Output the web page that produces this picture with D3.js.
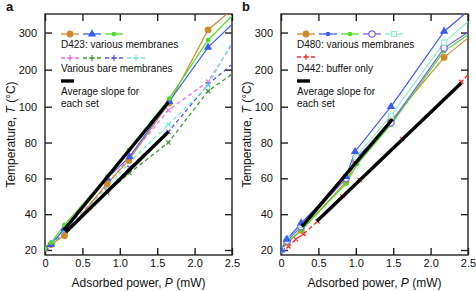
<!DOCTYPE html>
<html><head><meta charset="utf-8">
<script src="https://cdn.jsdelivr.net/npm/d3@7"></script>
<style>
html,body{margin:0;padding:0;background:#fff;}
text{font-family:"Liberation Sans",Arial,sans-serif;fill:#111;}
</style></head>
<body>
<svg id="c" width="476" height="291"></svg>
<script>
// ---------- data ----------
const xTicks = [0, 0.5, 1, 1.5, 2, 2.5];
const yTicks = [20, 40, 60, 80, 100, 200, 300];

// Panel a: D423 membranes (solid)
const aOrange = [[0,21],[0.08,23],[0.26,28],[0.83,57],[1.12,70],[1.66,110],[2.18,307],[2.5,362]];
const aBlue   = [[0,21],[0.08,23],[0.26,32],[0.83,60],[1.13,72],[1.66,114],[2.18,260],[2.5,322]];
const aGreen  = [[0,21],[0.08,24],[0.26,34],[0.83,61],[1.12,76],[1.66,122],[2.18,280],[2.5,345]];
// Panel a: bare membranes (dashed)
const aBareMagenta = [[0,21],[0.1,24],[0.27,31],[0.83,56],[1.13,72],[1.65,98],[2.18,168],[2.5,268]];
const aBareGreen   = [[0,21],[0.1,24],[0.27,30],[0.83,52],[1.13,63],[1.65,80],[2.18,142],[2.5,188]];
const aBareBlue    = [[0,21],[0.1,24],[0.27,30],[0.83,53],[1.13,66],[1.65,86],[2.18,160],[2.5,214]];
const aBareCyan    = [[0,21],[0.1,24],[0.27,31],[0.83,55],[1.13,69],[1.65,90],[2.18,157],[2.5,275]];
// Panel a: average slopes
const aSlopeUpper = [[0.25,31],[1.65,112]];
const aSlopeLower = [[0.28,30],[1.65,86]];

// Panel b: D480 membranes (solid)
const bOrange = [[0,20],[0.08,24],[0.27,31],[0.87,58],[1.0,69],[1.47,92],[2.18,233],[2.5,285]];
const bBlue   = [[0,20],[0.08,26],[0.27,35],[0.87,61],[0.99,75],[1.47,100],[2.18,303],[2.5,358]];
const bGreen  = [[0,20],[0.08,24],[0.27,31],[0.87,57],[1.02,68],[1.47,90],[2.18,250],[2.5,294]];
const bPurple = [[0,20],[0.08,25],[0.27,33],[0.87,60],[1.0,71],[1.47,91],[2.18,258],[2.5,301]];
const bCyan   = [[0,20],[0.08,26],[0.27,34],[0.87,61],[1.0,72],[1.47,95],[2.18,273],[2.5,330]];
// Panel b: D442 buffer only (dashed)
const bBuffer = [[0,20],[0.1,22],[0.2,26],[0.3,29],[0.49,36],[0.82,50],[1.05,59],[1.62,82],[2.41,167],[2.5,186]];
// Panel b: average slopes
const bSlopeUpper = [[0.28,33],[1.49,93]];
const bSlopeLower = [[0.48,36],[2.41,164]];

// ---------- drawing ----------
const svg = d3.select("#c");
const plotTop = 14, plotBottom = 255, plotW = 187;

const C = {
  orange:"#d08a2c", blue:"#3b5cf2", green:"#49e024", purple:"#7a5cf0", cyan:"#8cf0d2",
  magenta:"#ee6cee", dgreen:"#3a9a36", dblue:"#5b52ee", dcyan:"#70f0d4", red:"#ff2a2a"
};

function plusPath(s){ return `M${-s},0H${s}M0,${-s}V${s}`; }

function drawMarkers(sel, pts, s){
  pts.forEach(p=>{
    const [px,py]=p;
    if(s.marker==="circle"){
      sel.append("circle").attr("cx",px).attr("cy",py).attr("r",3.4).attr("fill",s.color);
    } else if(s.marker==="dot"){
      sel.append("circle").attr("cx",px).attr("cy",py).attr("r",2.3).attr("fill",s.color);
    } else if(s.marker==="ocircle"){
      sel.append("circle").attr("cx",px).attr("cy",py).attr("r",3.2).attr("fill","#fff").attr("stroke",s.color).attr("stroke-width",1.2);
    } else if(s.marker==="osquare"){
      sel.append("rect").attr("x",px-2.5).attr("y",py-2.5).attr("width",5).attr("height",5).attr("fill","#fff").attr("stroke",s.color).attr("stroke-width",1.1);
    } else if(s.marker==="triangle"){
      sel.append("path").attr("transform",`translate(${px},${py})`)
        .attr("d",d3.symbol(d3.symbolTriangle,30)()).attr("fill",s.color);
    } else if(s.marker==="plus"){
      sel.append("path").attr("transform",`translate(${px},${py})`)
        .attr("d",plusPath(3)).attr("stroke",s.color).attr("stroke-width",1.2).attr("fill","none");
    } else if(s.marker==="cross"){
      sel.append("path").attr("transform",`translate(${px},${py}) rotate(45)`)
        .attr("d",plusPath(3)).attr("stroke",s.color).attr("stroke-width",1.2).attr("fill","none");
    }
  });
}

function drawPanel(opt){
  const x = d3.scaleLinear().domain([0,2.5]).range([opt.left, opt.left+plotW]);
  const y = d3.scaleLinear().domain([17.2,100,350]).range([plotBottom,106.7,plotTop]);
  const g = svg.append("g");
  const clipId = "clip"+opt.id;
  svg.append("clipPath").attr("id",clipId).append("rect")
    .attr("x",opt.left).attr("y",plotTop).attr("width",plotW).attr("height",plotBottom-plotTop);

  const tickLen = 7;
  const ax = g.append("g").attr("transform",`translate(0,${plotBottom})`)
    .call(d3.axisBottom(x).tickValues(xTicks).tickFormat(d=>d===0?"0":d3.format(".1f")(d)).tickSizeInner(-tickLen).tickSizeOuter(0).tickPadding(4));
  const at = g.append("g").attr("transform",`translate(0,${plotTop})`)
    .call(d3.axisTop(x).tickValues(xTicks).tickFormat("").tickSizeInner(-tickLen).tickSizeOuter(0));
  const al = g.append("g").attr("transform",`translate(${opt.left},0)`)
    .call(d3.axisLeft(y).tickValues(yTicks).tickFormat(d3.format("d")).tickSizeInner(-tickLen).tickSizeOuter(0).tickPadding(8));
  const ar = g.append("g").attr("transform",`translate(${opt.left+plotW},0)`)
    .call(d3.axisRight(y).tickValues(yTicks).tickFormat("").tickSizeInner(-tickLen).tickSizeOuter(0));
  [ax,at,al,ar].forEach(a=>{
    a.select(".domain").remove();
    a.selectAll("line").attr("stroke","#222").attr("stroke-width",1.4);
    a.selectAll("text").attr("font-size",11).attr("fill","#111").style("font-family","Liberation Sans, Arial, sans-serif");
  });
  g.append("rect").attr("x",opt.left).attr("y",plotTop).attr("width",plotW).attr("height",plotBottom-plotTop)
    .attr("fill","none").attr("stroke","#222").attr("stroke-width",1.4);

  const xt = g.append("text").attr("x",opt.left+plotW/2).attr("y",287).attr("text-anchor","middle").attr("font-size",12);
  xt.append("tspan").text("Adsorbed power, ");
  xt.append("tspan").attr("font-style","italic").text("P");
  xt.append("tspan").text(" (mW)");
  const yt = g.append("text").attr("transform",`translate(${opt.left-30},${(plotTop+plotBottom)/2}) rotate(-90)`)
    .attr("text-anchor","middle").attr("font-size",12);
  yt.append("tspan").text("Temperature, ");
  yt.append("tspan").attr("font-style","italic").text("T");
  yt.append("tspan").text(" (°C)");
  g.append("text").attr("x",opt.left-39).attr("y",11).attr("font-size",13).attr("font-weight","bold").text(opt.label);

  const line = d3.line().x(d=>x(d[0])).y(d=>y(d[1]));
  const plot = g.append("g").attr("clip-path",`url(#${clipId})`);
  opt.series.forEach(s=>{
    plot.append("path").datum(s.data).attr("d",line).attr("fill","none")
      .attr("stroke",s.color).attr("stroke-width",s.dash?1.3:1.2)
      .attr("stroke-dasharray",s.dash?"4,3":null);
  });
  opt.series.forEach(s=>{
    const pts = s.data.filter(d=>d[0]<2.49 && d[1]<350);
    drawMarkers(plot, pts.map(d=>[x(d[0]),y(d[1])]), s);
  });
  opt.slopes.forEach(sl=>{
    plot.append("path").datum(sl).attr("d",line).attr("fill","none")
      .attr("stroke","#000").attr("stroke-width",3.4).attr("stroke-linecap","butt");
  });

  const L = opt.left+16;
  const lg = g.append("g");
  opt.legendRows.forEach(row=>{
    row.items.forEach((s,i)=>{
      const x0 = L + i*22, x1 = x0+18, yy=row.y;
      lg.append("line").attr("x1",x0).attr("x2",s.black?x0+13:x1).attr("y1",yy).attr("y2",yy)
        .attr("stroke",s.color).attr("stroke-width",s.black?3.4:1.3)
        .attr("stroke-dasharray",s.dash?"4,3":null);
      if(!s.black) drawMarkers(lg, [[(x0+x1)/2,yy]], s.legendMarker?Object.assign({},s,{marker:s.legendMarker}):s);
    });
  });
  opt.legendTexts.forEach(t=>{
    lg.append("text").attr("x",L).attr("y",t.y).attr("dy","0.35em").attr("font-size",10).text(t.text);
  });
}

const aSeries = [
  {data:aBareMagenta,color:C.magenta,dash:true,marker:"cross"},
  {data:aBareGreen,color:C.dgreen,dash:true,marker:"cross"},
  {data:aBareBlue,color:C.dblue,dash:true,marker:"cross"},
  {data:aBareCyan,color:C.dcyan,dash:true,marker:"cross"},
  {data:aOrange,color:C.orange,marker:"circle"},
  {data:aBlue,color:C.blue,marker:"triangle"},
  {data:aGreen,color:C.green,marker:"dot"}
];
drawPanel({
  id:"a", label:"a", left:45, series:aSeries, slopes:[aSlopeUpper,aSlopeLower],
  legendRows:[
    {y:34, items:[aSeries[4],aSeries[5],aSeries[6]]},
    {y:58, items:[aSeries[0],aSeries[1],aSeries[2],aSeries[3]].map(s=>Object.assign({},s,{marker:"plus"}))},
    {y:81, items:[{color:"#000",black:true}]}
  ],
  legendTexts:[
    {y:44,text:"D423: various membranes"},
    {y:68,text:"Various bare membranes"},
    {y:91,text:"Average slope for"},
    {y:103,text:"each set"}
  ]
});

const bSeries = [
  {data:bBuffer,color:C.red,dash:true,marker:"cross"},
  {data:bOrange,color:C.orange,marker:"circle"},
  {data:bGreen,color:C.green,marker:"dot"},
  {data:bPurple,color:C.purple,marker:"ocircle"},
  {data:bCyan,color:C.cyan,marker:"osquare"},
  {data:bBlue,color:C.blue,marker:"triangle",legendMarker:"dot"}
];
drawPanel({
  id:"b", label:"b", left:281, series:bSeries, slopes:[bSlopeUpper,bSlopeLower],
  legendRows:[
    {y:34, items:[bSeries[1],bSeries[5],bSeries[2],bSeries[3],bSeries[4]]},
    {y:57, items:[Object.assign({},bSeries[0],{marker:"plus"})]},
    {y:81, items:[{color:"#000",black:true}]}
  ],
  legendTexts:[
    {y:44,text:"D480: various membranes"},
    {y:68,text:"D442: buffer only"},
    {y:91,text:"Average slope for"},
    {y:103,text:"each set"}
  ]
});
</script>
</body></html>
